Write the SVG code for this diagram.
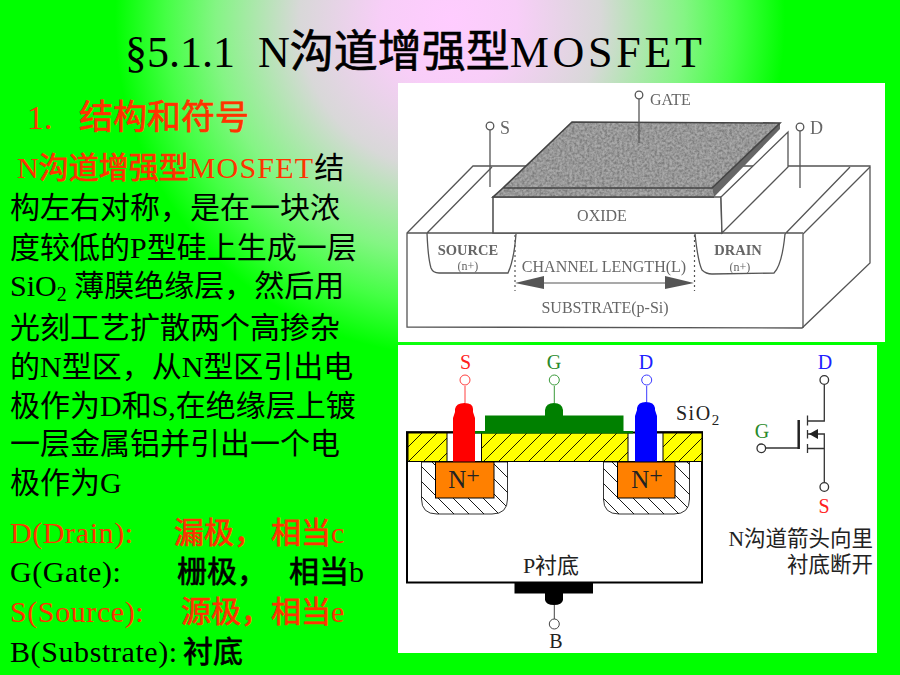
<svg xmlns="http://www.w3.org/2000/svg" width="900" height="675" viewBox="0 0 900 675">
<style>
text{font-family:"Liberation Serif","Noto Sans CJK SC",serif}
.t{font-size:30px;fill:#000}
.r{font-size:30px;fill:#ff3300}
.a{letter-spacing:.6px}
.zk{stroke:#000;stroke-width:.7px}
.zr{stroke:#ff3300;stroke-width:.7px}
.l{fill:none;stroke:#555;stroke-width:1.3}
.lb{font-size:16px;fill:#666}
</style>
<defs>
<radialGradient id="bg" gradientUnits="userSpaceOnUse" cx="450" cy="20" r="335">
<stop offset="0" stop-color="#ffccff"/><stop offset=".2" stop-color="#f8cef8"/><stop offset=".45" stop-color="#d8d8d8"/><stop offset=".7" stop-color="#84f584"/><stop offset=".85" stop-color="#44ff44"/><stop offset="1" stop-color="#00ff00"/>
</radialGradient>
<filter id="sp" x="0" y="0" width="100%" height="100%">
<feTurbulence type="fractalNoise" baseFrequency=".4" numOctaves="2" seed="4"/>
<feColorMatrix values="0 0 0 0 .2 0 0 0 0 .2 0 0 0 0 .2 2 0 0 0 -0.55"/>
<feComposite in2="SourceGraphic" operator="in" result="n"/>
<feMerge><feMergeNode in="SourceGraphic"/><feMergeNode in="n"/></feMerge>
</filter>
<filter id="soft"><feGaussianBlur stdDeviation=".5"/></filter>
<pattern id="hy" width="15" height="15" patternUnits="userSpaceOnUse"><rect width="15" height="15" fill="#ffff00"/><path d="M-1 16L16 -1" stroke="#000" stroke-width=".9"/></pattern>
<pattern id="hw" width="15" height="15" patternUnits="userSpaceOnUse"><rect width="15" height="15" fill="#fff"/><path d="M-1 -1L16 16" stroke="#000" stroke-width=".9"/></pattern>
</defs>
<rect id="background" width="900" height="675" fill="#00ff00"/>
<rect width="900" height="675" fill="url(#bg)"/>

<g id="title"><text x="125" y="67" font-size="44" fill="#000"><tspan>§5.1.1</tspan><tspan x="258">N</tspan><tspan class="zk">沟道增强型</tspan><tspan letter-spacing="3.700">MOSFET</tspan></text></g>
<g id="heading"><text x="27" y="129" font-size="34" fill="#ff3300"><tspan>1.</tspan><tspan x="79" class="zr">结构和符号</tspan></text></g>

<g id="body">
<text class="r" x="17" y="178">N<tspan class="zr">沟道增强型</tspan><tspan letter-spacing="1.200">MOSFET</tspan><tspan fill="#000">结</tspan></text>
<text class="t" x="10" y="218">构左右对称，是在一块浓</text>
<text class="t" x="10" y="258">度较低的P型硅上生成一层</text>
<text class="t" x="10" y="296">SiO<tspan font-size="20" dy="5">2</tspan><tspan dy="-5"> 薄膜绝缘层，然后用</tspan></text>
<text class="t" x="10" y="338">光刻工艺扩散两个高掺杂</text>
<text class="t" x="10" y="377">的N型区，从N型区引出电</text>
<text class="t" x="10" y="416">极作为D和S,在绝缘层上镀</text>
<text class="t" x="10" y="454">一层金属铝并引出一个电</text>
<text class="t" x="10" y="493">极作为G</text>
</g>
<g id="legend">
<text class="r" x="10" y="543"><tspan class="a">D(Drain):</tspan><tspan x="174" class="zr">漏极，</tspan><tspan x="271" class="zr">相当</tspan>c</text>
<text class="t" x="10" y="582"><tspan class="a">G(Gate):</tspan><tspan x="177" class="zk">栅极，</tspan><tspan x="289" class="zk">相当</tspan>b</text>
<text class="r" x="10" y="622"><tspan class="a">S(Source):</tspan><tspan x="181" class="zr">源极，相当</tspan>e</text>
<text class="t" x="10" y="662"><tspan class="a">B(Substrate):</tspan><tspan x="183" class="zk">衬底</tspan></text>
</g>

<g id="structure-3d">
<rect x="398" y="83" width="487" height="259" fill="#fff"/>
<g filter="url(#soft)">
<path class="l" d="M407 233L473 166H870V263L802 328L407 327Z"/>
<path class="l" d="M407 233H803M803 234V328M803 234L870 167M427 233L492 167M785 234L850 167"/>
<path class="l" d="M427 233Q428 258 431 268Q433 273 439 273H508Q514 260 516 234"/>
<path class="l" d="M695 234Q698 262 702 270Q706 274 712 274L774 273Q782 265 785 234"/>
<path d="M493 197H721L722 233H493Z" fill="#fff" stroke="#555" stroke-width="1.600"/>
<path d="M721 197L788 132V167L722 233Z" fill="#fff" stroke="#555" stroke-width="1.300"/>
<path d="M572 122L780 123L712 188H503Z" fill="#aaa" filter="url(#sp)"/>
<path d="M503 188H712L714 197H493Z" fill="#aaa" filter="url(#sp)"/>
<path d="M780 123V129L714 197L712 188Z" fill="#666"/>
<path d="M572 122L780 123L712 188H503ZM503 188L493 197H714" fill="none" stroke="#444" stroke-width="1.600"/>
<path class="l" d="M639 99V143"/><path class="l" d="M490 130V187M800 131V188"/>
<circle class="l" cx="639" cy="95" r="3.800"/><circle class="l" cx="490" cy="126" r="3.800"/><circle class="l" cx="800" cy="127" r="3.800"/>
<path d="M515 235V291M694.500 235V291" stroke="#555" stroke-width="1.200" stroke-dasharray="2 3" fill="none"/>
<path d="M520 283H690" stroke="#555" stroke-width="1.200"/>
<path d="M515 283L544 276V289ZM694 283L665 276V289Z" fill="#555"/>
<text class="lb" x="650" y="105">GATE</text>
<text class="lb" x="500" y="134" style="font-size:18px">S</text>
<text class="lb" x="810" y="134" style="font-size:18px">D</text>
<text class="lb" x="602" y="221" text-anchor="middle">OXIDE</text>
<text class="lb" x="468" y="255" text-anchor="middle" font-weight="bold" style="font-size:14.500px">SOURCE</text>
<text class="lb" x="468" y="270" text-anchor="middle" style="font-size:12px">(n+)</text>
<text class="lb" x="738" y="255" text-anchor="middle" font-weight="bold" style="font-size:14.500px">DRAIN</text>
<text class="lb" x="740" y="271" text-anchor="middle" style="font-size:12px">(n+)</text>
<text class="lb" x="604" y="272" text-anchor="middle">CHANNEL LENGTH(L)</text>
<text class="lb" x="605" y="313" text-anchor="middle">SUBSTRATE(p-Si)</text>
</g>
</g>

<g id="cross-section">
<rect x="398" y="345" width="479" height="308" fill="#fff"/>
<rect x="407" y="432.500" width="295" height="150" fill="#fff" stroke="#000" stroke-width="2"/>
<path d="M421.500 462H507.500V499Q507.500 514 492 514H437Q421.500 514 421.500 499Z" fill="url(#hw)" stroke="#000" stroke-width=".8"/>
<path d="M603.500 462H689.500V499Q689.500 514 674 514H619Q603.500 514 603.500 499Z" fill="url(#hw)" stroke="#000" stroke-width=".8"/>
<rect x="435.500" y="462" width="58.500" height="36" fill="#ff8000" stroke="#000"/>
<rect x="617.500" y="462" width="57.500" height="36" fill="#ff8000" stroke="#000"/>
<g stroke="#000" stroke-width="1">
<rect x="408" y="433" width="39" height="28.500" fill="url(#hy)"/>
<rect x="481.500" y="433" width="146.500" height="28.500" fill="url(#hy)"/>
<rect x="663" y="433" width="39" height="28.500" fill="url(#hy)"/>
</g>
<path d="M406 461.500H703" stroke="#000" stroke-width="1"/>
<path d="M406 432H453M657 432H703" stroke="#000" stroke-width="1.600"/>
<rect x="475" y="431" width="158" height="2.500" fill="#008000"/>
<rect x="485" y="415.500" width="138.500" height="16" fill="#008000"/>
<path d="M545 416V410Q546 403 554 403Q562 403 563 410V416Z" fill="#008000"/>
<path d="M453 461.500V418L455 412V409Q456 403 464.500 403Q473 403 473 409V412L475 418V461.500Z" fill="#ff0000"/>
<path d="M635 461.500V416L637 410V408Q638 402 646 402Q654 402 655 408V410L657 416V461.500Z" fill="#0000ff"/>
<path d="M465 386V403" stroke="#ff4040"/><path d="M554.300 386V403" stroke="#3a9a3a"/><path d="M646.700 386V402" stroke="#3a3aff"/>
<circle cx="465" cy="380" r="5" fill="#fff" stroke="#ff4040"/>
<circle cx="554.300" cy="380" r="5" fill="#fff" stroke="#3a9a3a"/>
<circle cx="646.700" cy="380" r="5" fill="#fff" stroke="#3a3aff"/>
<g font-size="20" text-anchor="middle">
<text x="465.500" y="369" fill="#ff2020">S</text>
<text x="554" y="369" fill="#2a8a2a">G</text>
<text x="646" y="369" fill="#2020ff">D</text>
<text x="556" y="648" fill="#222">B</text>
</g>
<text x="676" y="420" font-size="20" letter-spacing="1.500" fill="#222">SiO<tspan font-size="15" dy="5">2</tspan></text>
<text x="464" y="488" font-size="25" text-anchor="middle" fill="#222">N<tspan font-size="24" dy="-5">+</tspan></text>
<text x="647" y="488" font-size="25" text-anchor="middle" fill="#222">N<tspan font-size="24" dy="-5">+</tspan></text>
<text x="551" y="573" font-size="22" text-anchor="middle" fill="#222">P衬底</text>
<rect x="514.500" y="583" width="78.500" height="10.500" fill="#000"/>
<path d="M545 593V600Q546 605 554 605Q562 605 563 600V593Z" fill="#000"/>
<path d="M554.300 605V619" stroke="#444"/>
<circle cx="554.300" cy="624" r="5" fill="#fff" stroke="#444"/>
</g>

<g id="symbol">
<g fill="none" stroke="#333" stroke-width="1.300">
<path d="M824.300 385V421H807.500M807.500 415.500V425.500M807.500 430V438.500M807.500 444V453M824 448.500H807.500M807.500 434H824.300V482"/>
<path d="M765 448H798.500"/>
</g>
<path d="M798.700 420V449" stroke="#222" stroke-width="2.500"/>
<path d="M809 434L818 429V439Z" fill="#222"/>
<circle cx="824.300" cy="380" r="4.300" fill="#fff" stroke="#333" stroke-width="1.300"/>
<circle cx="824.300" cy="487" r="4.300" fill="#fff" stroke="#333" stroke-width="1.300"/>
<circle cx="761.300" cy="448.300" r="4.300" fill="#fff" stroke="#333" stroke-width="1.300"/>
<g font-size="20" text-anchor="middle">
<text x="825" y="369" fill="#2020ff">D</text>
<text x="762" y="438" fill="#2a8a2a">G</text>
<text x="824" y="513" fill="#ff2020">S</text>
</g>
<text x="873" y="546" font-size="21.500" text-anchor="end" fill="#222">N沟道箭头向里</text>
<text x="873" y="572" font-size="21.500" text-anchor="end" fill="#222">衬底断开</text>
</g>
</svg>
